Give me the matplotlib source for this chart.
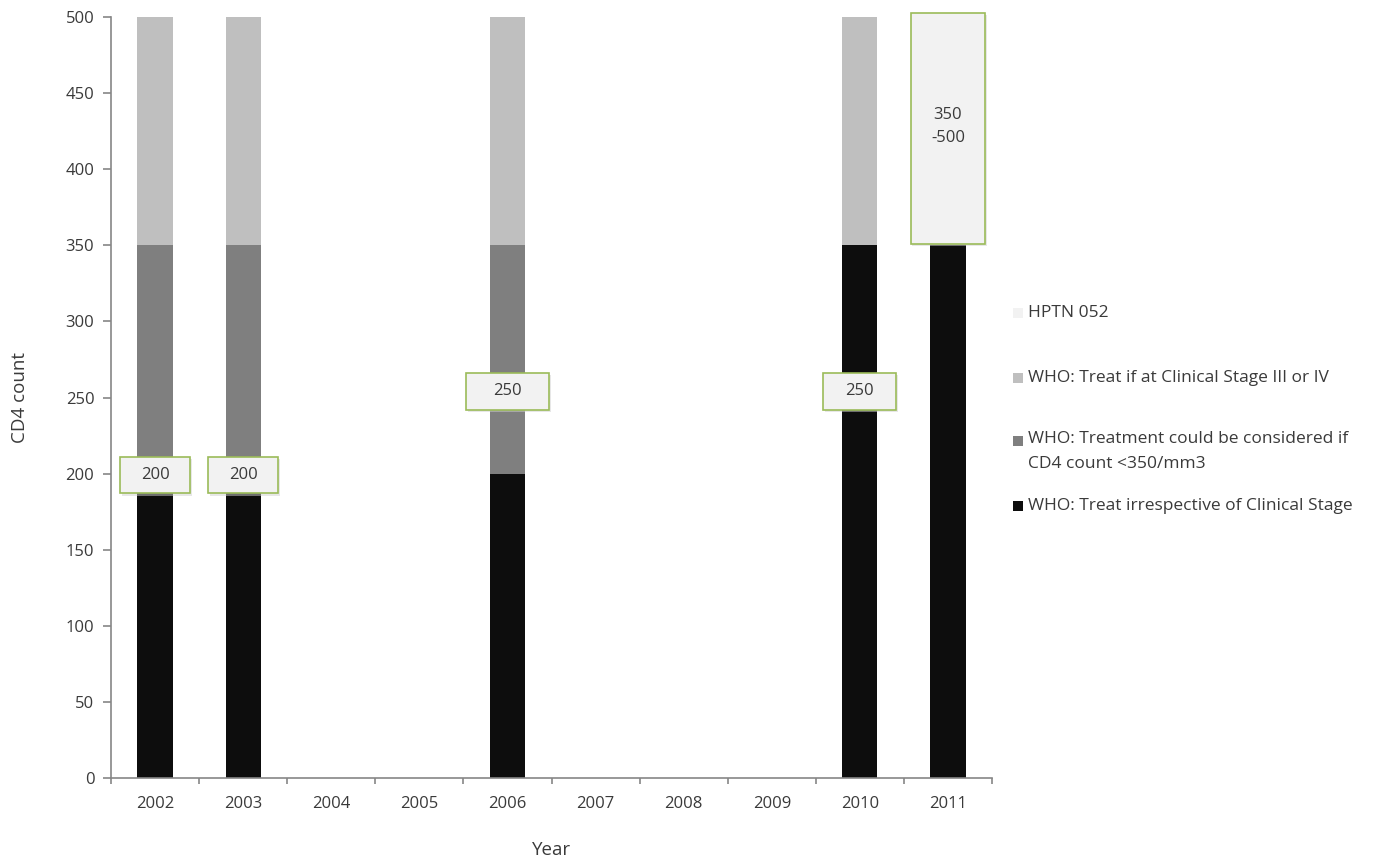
import matplotlib
matplotlib.use("Agg")
import matplotlib.pyplot as plt
from matplotlib.patches import Rectangle
import numpy as np

plt.rcParams['font.family'] = ['Open Sans', 'DejaVu Sans']

years = ['2002', '2003', '2004', '2005', '2006', '2007', '2008', '2009', '2010', '2011']
treat_irrespective = [200, 200, 0, 0, 200, 0, 0, 0, 350, 350]
could_consider = [150, 150, 0, 0, 150, 0, 0, 0, 0, 0]
stage_3_4 = [150, 150, 0, 0, 150, 0, 0, 0, 150, 0]
hptn_052 = [0, 0, 0, 0, 0, 0, 0, 0, 0, 150]

label_years = ['2002', '2003', '2006', '2010']
label_texts = ['200', '200', '250', '250']
label_values = [199, 199, 254, 254]
hptn_label = '350\n-500'

series_names = ['HPTN 052',
                'WHO: Treat if at Clinical Stage III or IV',
                'WHO: Treatment could be considered if\nCD4 count <350/mm3',
                'WHO: Treat irrespective of Clinical Stage']

c_black = '#0d0d0d'
c_dark = '#7f7f7f'
c_light = '#bfbfbf'
c_hptn = '#f2f2f2'
c_green = '#9bbb59'
c_axis = '#868686'
c_text = '#3a3a3a'

fig = plt.figure(figsize=(13.73, 8.65), dpi=100)
ax = fig.add_axes([111/1373, 1-778/865, (992-111)/1373, (778-17)/865])

x = np.arange(len(years))
w = 0.4
b1 = np.array(treat_irrespective)
b2 = b1 + np.array(could_consider)
b3 = b2 + np.array(stage_3_4)
ax.bar(x, treat_irrespective, w, color=c_black, zorder=2)
ax.bar(x, could_consider, w, bottom=b1, color=c_dark, zorder=2)
ax.bar(x, stage_3_4, w, bottom=b2, color=c_light, zorder=2)
ax.bar(x, hptn_052, w, bottom=b3, color=c_hptn, zorder=2)

ax.set_xlim(-0.5, len(years)-0.5)
ax.set_ylim(0, 500)
ax.set_yticks(np.arange(0, 501, 50))
ax.set_xticks(x)
ax.set_xticklabels(years)
ax.set_xticks(np.arange(-0.5, len(years), 1), minor=True)
ax.tick_params(axis='x', which='major', length=0, pad=13, labelsize=12, labelcolor=c_text)
ax.tick_params(axis='x', which='minor', length=4, color=c_axis, direction='out', width=1.2)
ax.tick_params(axis='y', length=6, color=c_axis, labelsize=12, labelcolor=c_text, pad=6, width=1.2)
for s in ['top', 'right']:
    ax.spines[s].set_visible(False)
for s in ['left', 'bottom']:
    ax.spines[s].set_color(c_axis)
    ax.spines[s].set_linewidth(1.2)

ax.set_ylabel('CD4 count', fontsize=13.5, color=c_text, labelpad=26)
ax.set_xlabel('Year', fontsize=13.5, color=c_text, labelpad=21)

box_widths = [0.80, 0.80, 0.94, 0.83]
box_h = 24
for yr, t, v, bw in zip(label_years, label_texts, label_values, box_widths):
    xi = years.index(yr)
    ax.add_patch(Rectangle((xi - bw/2 + 0.02, v - box_h/2 - 1.5), bw, box_h,
                           facecolor='#d0d0d0', edgecolor='none', alpha=0.5, zorder=3))
    ax.add_patch(Rectangle((xi - bw/2, v - box_h/2), bw, box_h,
                           facecolor=c_hptn, edgecolor=c_green, linewidth=1.2, zorder=4))
    ax.text(xi, v, t, ha='center', va='center', fontsize=12, color=c_text, zorder=5)

xi = years.index('2011')
bw = 0.85
bot = b3[xi]
ax.add_patch(Rectangle((xi - bw/2 + 0.02, bot + 1 - 1.5), bw, hptn_052[xi] + 1.5,
                       facecolor='#d0d0d0', edgecolor='none', alpha=0.5, zorder=3, clip_on=False))
ax.add_patch(Rectangle((xi - bw/2, bot + 1), bw, hptn_052[xi] + 1.5,
                       facecolor=c_hptn, edgecolor=c_green, linewidth=1.2, zorder=4, clip_on=False))
ax.text(xi, bot + hptn_052[xi]*0.52, hptn_label, ha='center', va='center', fontsize=12,
        color=c_text, linespacing=1.65, zorder=5)

# legend
leg_colors = [c_hptn, c_light, c_dark, c_black]
leg_y = [313, 378, 441, 506]
for col, name, yy in zip(leg_colors, series_names, leg_y):
    fig.patches.append(Rectangle((1013/1373, 1-(yy+5)/865), 10/1373, 10/865,
                                 facecolor=col, edgecolor='none', transform=fig.transFigure))
    if '\n' in name:
        fig.text(1028/1373, 1-(yy-10)/865, name, ha='left', va='top', fontsize=12.5,
                 color=c_text, linespacing=1.75)
    else:
        fig.text(1028/1373, 1-yy/865, name, ha='left', va='center', fontsize=12.5,
                 color=c_text)

fig.savefig('out.png', dpi=100, facecolor='white')
